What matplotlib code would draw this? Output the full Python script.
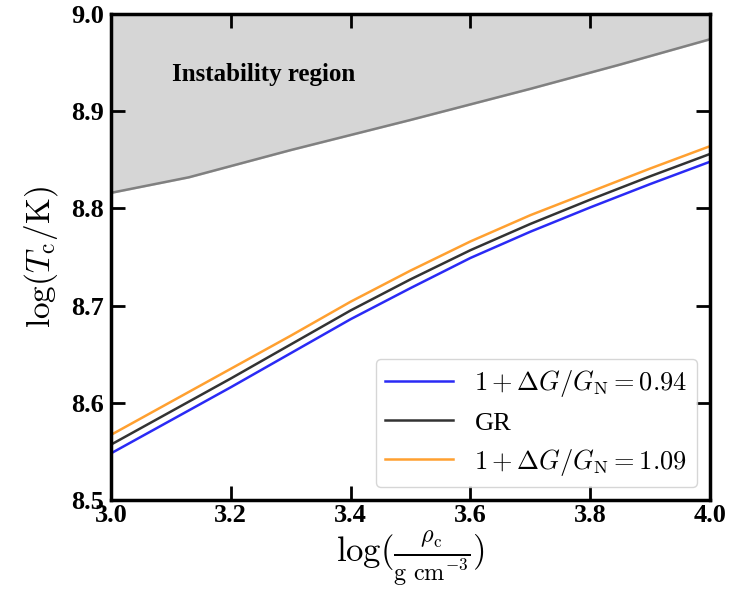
import matplotlib
matplotlib.use("Agg")
import matplotlib.pyplot as plt
import numpy as np

plt.rcParams['font.family'] = ['Liberation Serif', 'DejaVu Serif']
plt.rcParams['mathtext.fontset'] = 'cm'

log_rho = [3.0, 3.1, 3.2, 3.3, 3.4, 3.5, 3.6, 3.7, 3.8, 3.9, 4.0]
T_gr = [8.557, 8.591, 8.625, 8.660, 8.695, 8.727, 8.757, 8.784, 8.809, 8.833, 8.856]
T_low = [8.548, 8.582, 8.616, 8.651, 8.686, 8.718, 8.749, 8.776, 8.801, 8.825, 8.848]
T_high = [8.567, 8.601, 8.635, 8.669, 8.704, 8.736, 8.766, 8.793, 8.817, 8.841, 8.864]

inst_x = [3.0, 3.13, 3.3, 3.5, 3.7, 3.85, 4.0]
inst_y = [8.816, 8.832, 8.860, 8.891, 8.923, 8.948, 8.974]

fig = plt.figure(figsize=(7.31, 6.04), dpi=100)
ax = fig.add_axes([111/731, 1 - 500/604, (710-111)/731, (500-14)/604])

ax.fill_between(inst_x, inst_y, 9.0, color='#d6d6d6', zorder=0)
ax.plot(inst_x, inst_y, color='gray', lw=1.8, zorder=1)
ax.text(3.102, 8.938, 'Instability region', fontsize=18, fontweight='bold', va='center', ha='left')

ax.plot(log_rho, T_low, color='#2a2af5', lw=1.8, label=r'$1+\Delta G/G_{\rm N}=0.94$')
ax.plot(log_rho, T_gr, color='#333333', lw=1.8, label='GR')
ax.plot(log_rho, T_high, color='#ffa030', lw=1.8, label=r'$1+\Delta G/G_{\rm N}=1.09$')

ax.set_xlim(3.0, 4.0)
ax.set_ylim(8.5, 9.0)
ax.set_xticks([3.0, 3.2, 3.4, 3.6, 3.8, 4.0])
ax.set_yticks([8.5, 8.6, 8.7, 8.8, 8.9, 9.0])
ax.tick_params(direction='in', top=True, right=True, length=10, width=2, labelsize=19, pad=3)
ax.tick_params(axis='y', pad=5)
for lab in ax.get_xticklabels() + ax.get_yticklabels():
    lab.set_fontweight('bold')
for s in ax.spines.values():
    s.set_linewidth(2.5)

ax.set_xlabel(r'$\log(\frac{\rho_{\rm c}}{\rm g\ cm^{-3}})$', fontsize=25, labelpad=2)
ax.set_ylabel(r'$\log(T_{\rm c}/{\rm K})$', fontsize=24, labelpad=8)

leg = ax.legend(loc='lower right', fontsize=19, frameon=True, fancybox=True,
                edgecolor='#cccccc', handlelength=2.6, borderpad=0.35, labelspacing=0.45,
                handletextpad=0.8, borderaxespad=0.5)
leg.get_frame().set_linewidth(1.0)

fig.savefig('out.png', dpi=100)
